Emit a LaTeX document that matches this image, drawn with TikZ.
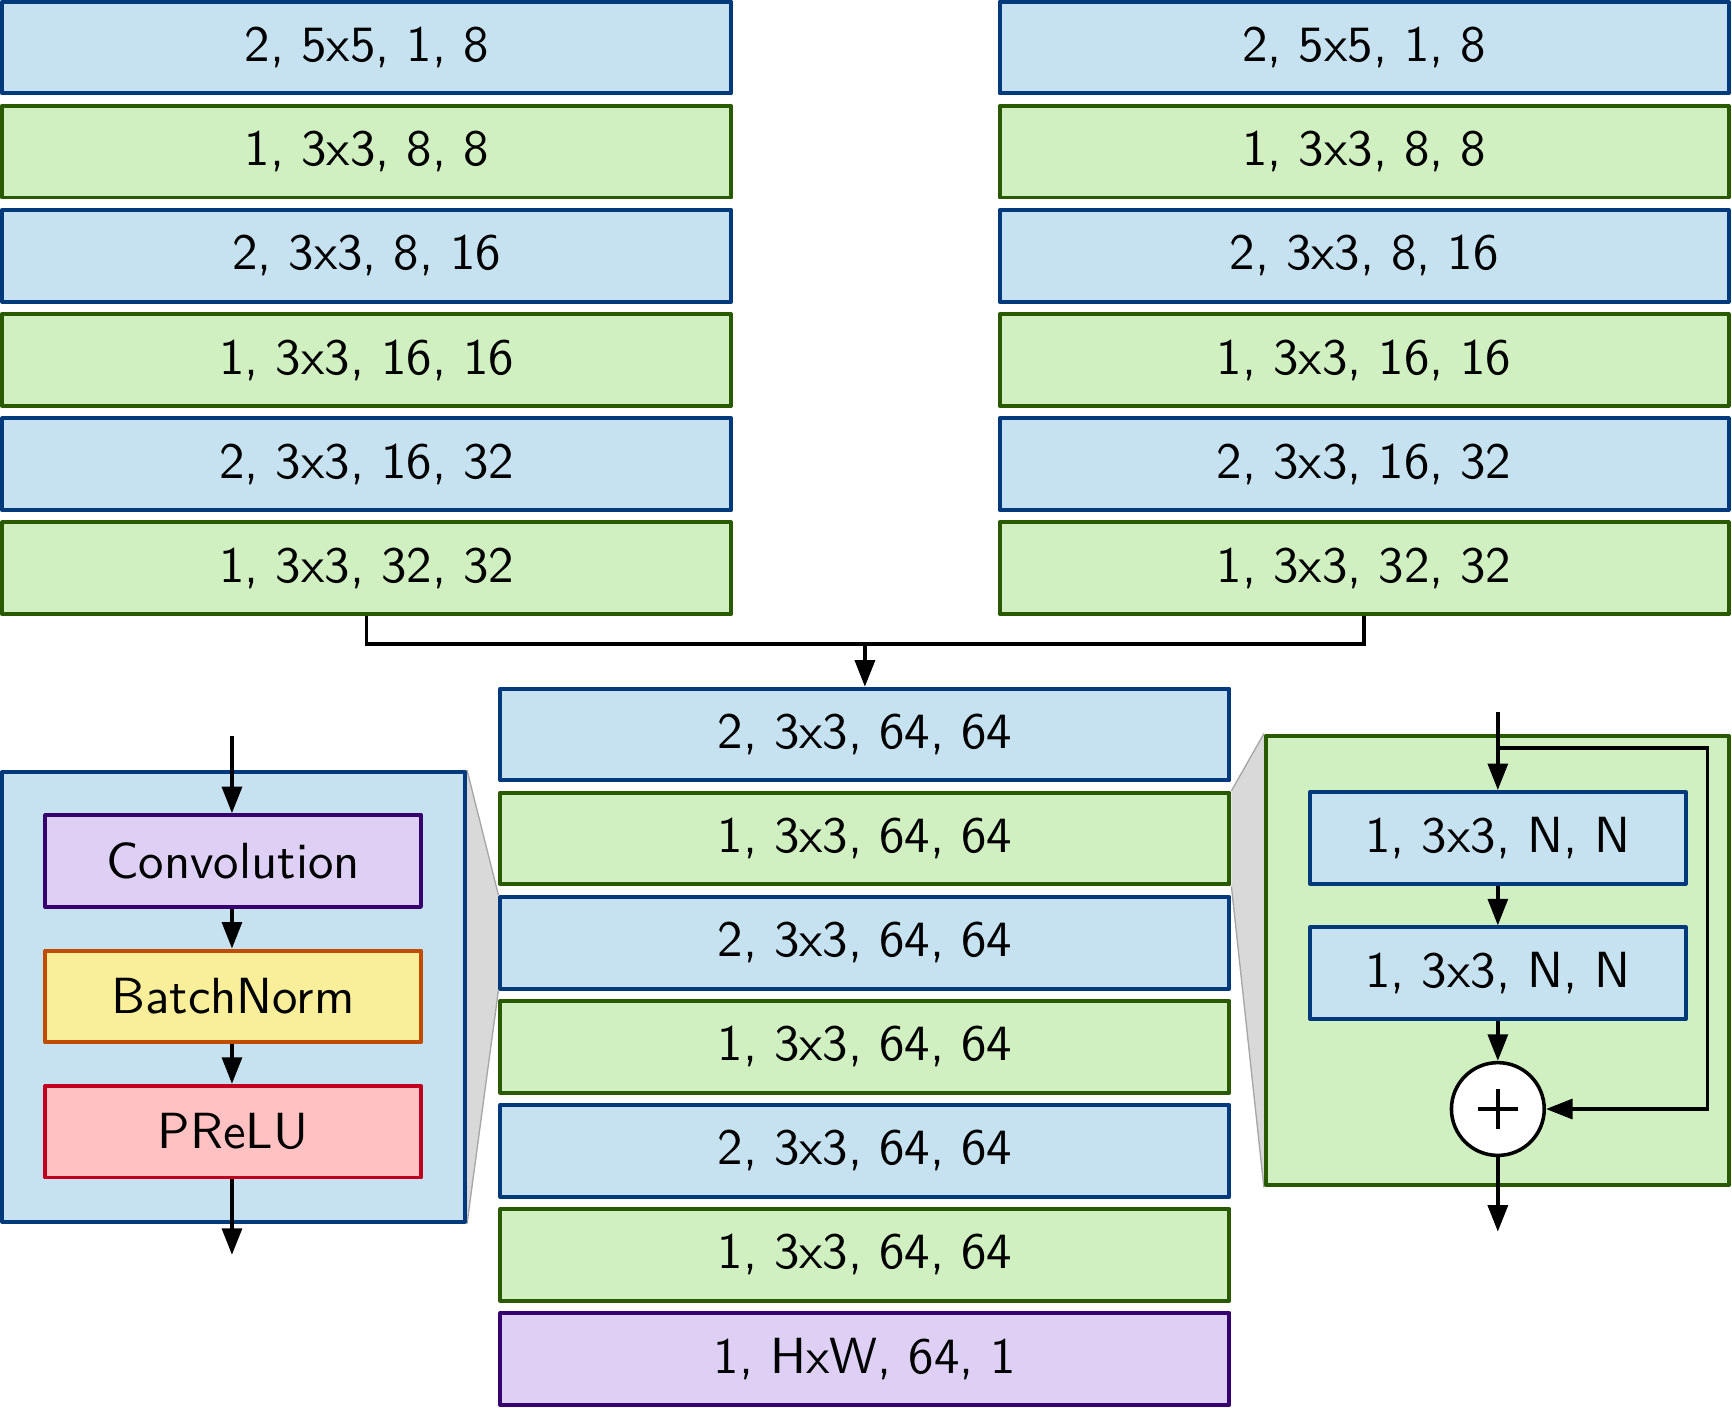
\documentclass[tikz,border=0pt]{standalone}
\usepackage{fontspec}
\setsansfont{lmsans10-regular}[Extension=.otf]
\usetikzlibrary{arrows.meta,backgrounds}
\definecolor{bfill}{HTML}{C6E2F0}
\definecolor{bdraw}{HTML}{003A7D}
\definecolor{gfill}{HTML}{D1F0C2}
\definecolor{gdraw}{HTML}{295A00}
\definecolor{pfill}{HTML}{DED0F5}
\definecolor{pdraw}{HTML}{36006E}
\definecolor{yfill}{HTML}{F9EE9A}
\definecolor{ydraw}{HTML}{C04C00}
\definecolor{rfill}{HTML}{FFC1C1}
\definecolor{rdraw}{HTML}{C0001E}
\definecolor{zfill}{HTML}{D9D9D9}
\definecolor{zdraw}{HTML}{A6A6A6}
\tikzset{
  box/.style={draw, line width=1.8pt, line join=round, minimum width=330pt, minimum height=41.5pt, inner sep=0pt,
    font=\sffamily\fontsize{23}{27}\selectfont},
  bbox/.style={box, fill=bfill, draw=bdraw},
  gbox/.style={box, fill=gfill, draw=gdraw},
  pbox/.style={box, fill=pfill, draw=pdraw},
  ybox/.style={box, fill=yfill, draw=ydraw},
  rbox/.style={box, fill=rfill, draw=rdraw},
  narrow/.style={minimum width=170pt},
  container/.style={draw, line width=1.8pt, line join=round, minimum width=209.5pt, minimum height=203.5pt, inner sep=0pt},
  arr/.style={line width=1.6pt, -{Triangle[length=12pt,width=9pt]}},
  conn/.style={line width=1.6pt},
  zoomgray/.style={fill=zfill, draw=zdraw, line width=0.6pt, line join=round}
}
\begin{document}
\begin{tikzpicture}[x=0.5pt,y=-0.5pt]
\useasboundingbox (0,0) rectangle (1568,1274);
% top left column
\node[bbox] (l1) at (332,43) {2, 5x5, 1, 8};
\node[gbox] (l2) at (332,137.3) {1, 3x3, 8, 8};
\node[bbox] (l3) at (332,231.6) {2, 3x3, 8, 16};
\node[gbox] (l4) at (332,325.9) {1, 3x3, 16, 16};
\node[bbox] (l5) at (332,420.2) {2, 3x3, 16, 32};
\node[gbox] (l6) at (332,514.5) {1, 3x3, 32, 32};
% top right column
\node[bbox] (r1) at (1235,43) {2, 5x5, 1, 8};
\node[gbox] (r2) at (1235,137.3) {1, 3x3, 8, 8};
\node[bbox] (r3) at (1235,231.6) {2, 3x3, 8, 16};
\node[gbox] (r4) at (1235,325.9) {1, 3x3, 16, 16};
\node[bbox] (r5) at (1235,420.2) {2, 3x3, 16, 32};
\node[gbox] (r6) at (1235,514.5) {1, 3x3, 32, 32};
% middle column
\node[bbox] (m1) at (783,665) {2, 3x3, 64, 64};
\node[gbox] (m2) at (783,759.2) {1, 3x3, 64, 64};
\node[bbox] (m3) at (783,853.4) {2, 3x3, 64, 64};
\node[gbox] (m4) at (783,947.6) {1, 3x3, 64, 64};
\node[bbox] (m5) at (783,1041.8) {2, 3x3, 64, 64};
\node[gbox] (m6) at (783,1136) {1, 3x3, 64, 64};
\node[pbox] (m7) at (783,1230.2) {1, HxW, 64, 1};
% merge connector
\coordinate (j) at (783,583);
\draw[conn] (l6.south) |- (j) -| (r6.south);
\draw[arr] (j) -- (m1.north);
% left detail
\node[container, fill=bfill, draw=bdraw] (ldet) at (211.5,902.5) {};
\node[pbox, narrow] (conv) at (211,779.5) {Convolution};
\node[ybox, narrow] (bn) at (211,902) {BatchNorm};
\node[rbox, narrow] (prelu) at (211,1024.5) {PReLU};
\coordinate (lin) at (210,666);
\coordinate (lout) at (210,1136);
\draw[arr] (lin) -- (lin |- conv.north);
\draw[arr] (conv.south -| lin) -- (bn.north -| lin);
\draw[arr] (bn.south -| lin) -- (prelu.north -| lin);
\draw[arr] (prelu.south -| lin) -- (lout);
% right detail
\node[container, fill=gfill, draw=gdraw] (rdet) at (1355.5,869.5) {};
\node[bbox, narrow] (ra) at (1356,758.5) {1, 3x3, N, N};
\node[bbox, narrow] (rb) at (1356,881) {1, 3x3, N, N};
\node[circle, draw, fill=white, line width=1.6pt, minimum size=42pt, inner sep=0pt] (plus) at (1356,1004) {};
\draw[line width=1.6pt] ([xshift=-9pt]plus.center) -- ([xshift=9pt]plus.center);
\draw[line width=1.6pt] ([yshift=-9pt]plus.center) -- ([yshift=9pt]plus.center);
\coordinate (rin) at (1356,645);
\coordinate (rs) at (1356,677);
\coordinate (rk) at (1546,677);
\coordinate (rout) at (1356,1115);
\draw[arr] (rin) -- (ra.north);
\draw[arr] (rs) -- (rk) |- (plus.east);
\draw[arr] (ra.south) -- (rb.north);
\draw[arr] (rb.south) -- (plus.north);
\draw[arr] (plus.south) -- (rout);
% zoom trapezoids
\begin{scope}[on background layer]
\fill[zfill] (ldet.north east) -- (m3.north west) -- (m3.south west) -- (ldet.south east) -- cycle;
\draw[zoomgray] (ldet.north east) -- (m3.north west);
\draw[zoomgray] (ldet.south east) -- (m3.south west);
\fill[zfill] (m2.north east) -- (rdet.north west) -- (rdet.south west) -- (m2.south east) -- cycle;
\draw[zoomgray] (m2.north east) -- (rdet.north west);
\draw[zoomgray] (m2.south east) -- (rdet.south west);
\end{scope}
\end{tikzpicture}
\end{document}
